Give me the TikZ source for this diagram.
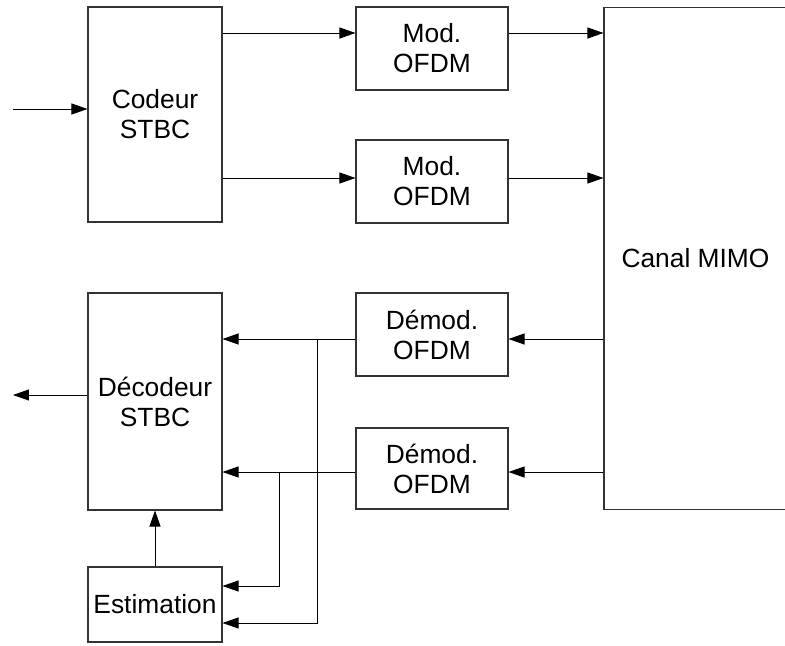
\documentclass[tikz,border=0pt]{standalone}
\usepackage{fontspec}
\setmainfont{Liberation Sans}
\usetikzlibrary{arrows.meta}

\tikzset{
  bloc/.style={draw=black!80, line width=0.6pt, rectangle, align=center,
    inner sep=0pt, font=\fontsize{15}{17}\selectfont},
  fleche/.style={-{Triangle[length=0.32cm,width=0.22cm]}, line width=0.5pt}
}

\begin{document}
\begin{tikzpicture}[x=0.02cm, y=-0.02cm]
    \useasboundingbox (0,0) rectangle (785,646);
    \begin{scope}
    \clip (0,0) rectangle (785,646);
    % blocs
    \node[bloc, minimum width=2.68cm, minimum height=4.3cm] (cod) at (155,114.5) {Codeur\\STBC};
    \node[bloc, minimum width=3.04cm, minimum height=1.66cm] (modA) at (432,48.5) {Mod.\\OFDM};
    \node[bloc, minimum width=3.04cm, minimum height=1.66cm] (modB) at (432,181.5) {Mod.\\OFDM};
    \node[bloc, minimum width=3.66cm, minimum height=10.06cm] (canal) at (695.5,258.5) {Canal MIMO};
    \node[bloc, minimum width=3.04cm, minimum height=1.66cm] (demA) at (432,334.5) {D\'emod.\\OFDM};
    \node[bloc, minimum width=3.04cm, minimum height=1.62cm] (demB) at (432,468.5) {D\'emod.\\OFDM};
    \node[bloc, minimum width=2.68cm, minimum height=4.34cm] (dec) at (155,401.5) {D\'ecodeur\\STBC};
    \node[bloc, minimum width=2.68cm, minimum height=1.5cm] (est) at (155,604.5) {Estimation};
    \end{scope}
    % points libres
    \coordinate (entree) at (13,109);
    \coordinate (sortie) at (13,395);
    \coordinate (brA) at (317,339);
    \coordinate (brB) at (279,472);
    % liaisons
    \draw[fleche] (entree) -- (entree -| cod.west);
    \draw[fleche] (dec.west |- sortie) -- (sortie);
    \draw[fleche] (cod.east |- 0,33) -- (modA.west |- 0,33);
    \draw[fleche] (cod.east |- 0,178) -- (modB.west |- 0,178);
    \draw[fleche] (modA.east |- 0,33) -- (canal.west |- 0,33);
    \draw[fleche] (modB.east |- 0,178) -- (canal.west |- 0,178);
    \draw[fleche] (canal.west |- brA) -- (demA.east |- brA);
    \draw[fleche] (canal.west |- brB) -- (demB.east |- brB);
    \draw[fleche] (demA.west |- brA) -- (dec.east |- brA);
    \draw[fleche] (demB.west |- brB) -- (dec.east |- brB);
    \draw[fleche] (brB) |- (est.east |- 0,586);
    \draw[fleche] (brA) |- (est.east |- 0,623);
    \draw[fleche] (est) -- (dec);
\end{tikzpicture}
\end{document}
